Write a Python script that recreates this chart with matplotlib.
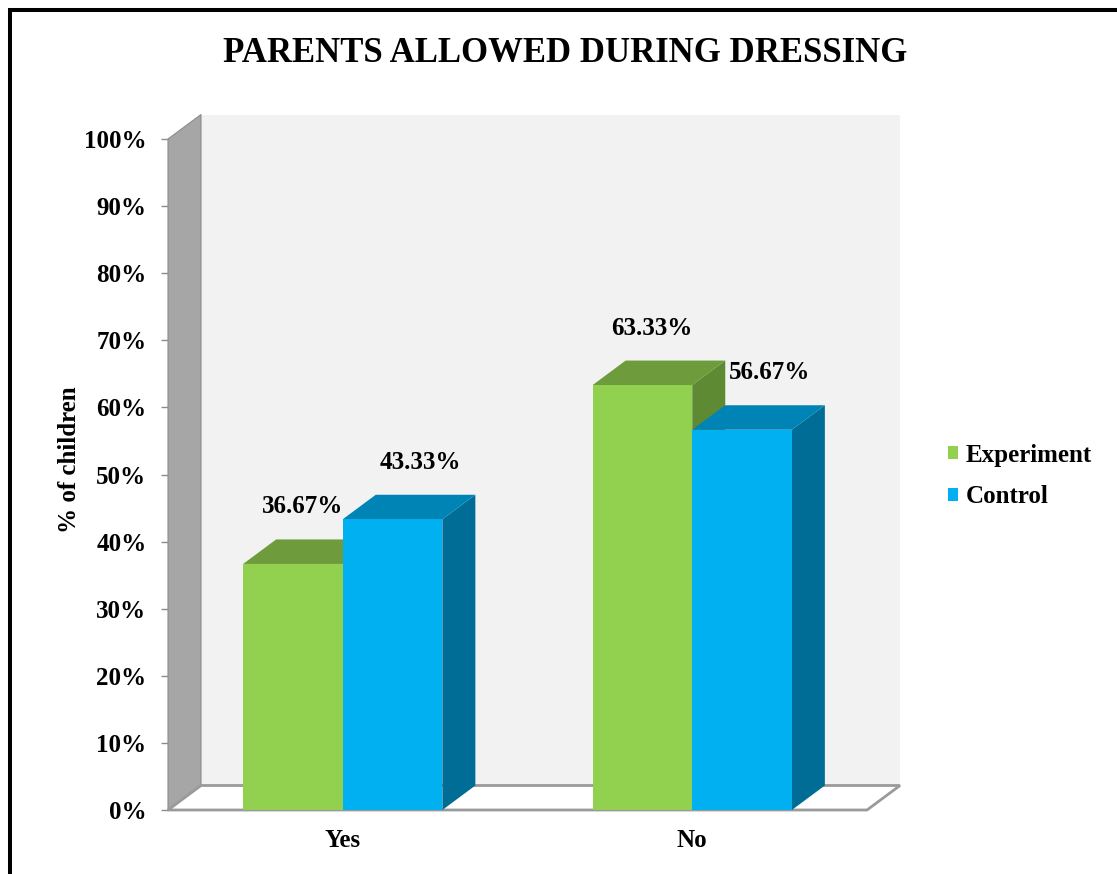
import matplotlib.pyplot as plt
import numpy as np
from matplotlib.patches import Polygon, Rectangle, Patch

# Daten
categories = ['Yes', 'No']
series = ['Experiment', 'Control']
experiment = [36.67, 63.33]
control = [43.33, 56.67]
yticks = [0, 10, 20, 30, 40, 50, 60, 70, 80, 90, 100]

front_cols = ['#92d050', '#00b0f0']
top_cols = ['#6e9b3b', '#0084b6']
side_cols = ['#5d8a32', '#006d96']

plt.rcParams['font.family'] = ['Liberation Serif', 'DejaVu Serif']
plt.rcParams['font.weight'] = 'bold'

W, H = 1117, 874
fig = plt.figure(figsize=(W/100, H/100), dpi=100)
fig.patch.set_facecolor('white')

# Vorderebene des Diagramms in Pixeln
x0p, x1p, y0p, y1p = 168, 867, 810, 139
ax = fig.add_axes([x0p/W, 1 - y0p/H, (x1p - x0p)/W, (y0p - y1p)/H])
ax.set_xlim(-0.5, 1.5)
ax.set_ylim(0, 100)
ax.patch.set_visible(False)
for s in ax.spines.values():
    s.set_visible(False)

# Tiefe (3D-Versatz) in Dateneinheiten
dx = 33 / (x1p - x0p) * 2
dy = 24.5 / (y0p - y1p) * 100

# Rueckwand, Seitenwand, Boden
ax.add_patch(Polygon([(-0.5 + dx, dy), (1.5 + dx, dy), (1.5 + dx, 100 + dy), (-0.5 + dx, 100 + dy)],
                     closed=True, fc='#f2f2f2', ec='none', clip_on=False, zorder=1))
ax.add_patch(Polygon([(-0.5, 0), (-0.5, 100), (-0.5 + dx, 100 + dy), (-0.5 + dx, dy)],
                     closed=True, fc='#a6a6a6', ec='#8c8c8c', lw=0.8, clip_on=False, zorder=2))
ax.add_patch(Polygon([(-0.5, 0), (1.5, 0), (1.5 + dx, dy), (-0.5 + dx, dy)],
                     closed=True, fc='white', ec='#9a9a9a', lw=2, clip_on=False, zorder=2))

# Balken
bw = 0.285
values = [experiment, control]
for i in range(len(categories)):
    for j in range(len(series)):
        v = values[j][i]
        x = i - bw + j * bw
        z = 3 + i * 2 + j * 0.5
        ax.add_patch(Polygon([(x + bw, 0), (x + bw, v), (x + bw + dx, v + dy), (x + bw + dx, dy)],
                             closed=True, fc=side_cols[j], ec='none', clip_on=False, zorder=z))
        ax.add_patch(Polygon([(x, v), (x + bw, v), (x + bw + dx, v + dy), (x + dx, v + dy)],
                             closed=True, fc=top_cols[j], ec='none', clip_on=False, zorder=z + 0.1))
        ax.add_patch(Rectangle((x, 0), bw, v, fc=front_cols[j], ec='none', clip_on=False, zorder=z + 0.2))
        ax.annotate('%.2f%%' % v, xy=(x + bw/2, v), xytext=(7 + 13*j, 41), textcoords='offset points',
                    ha='center', va='center', fontsize=18, fontweight='bold', zorder=10,
                    annotation_clip=False)

# Achsen
ax.set_yticks(yticks)
ax.set_yticklabels(['%d%%' % t for t in yticks])
ax.tick_params(axis='y', length=5, width=1, color='#8c8c8c', pad=10.5, labelsize=18)
ax.set_xticks(range(len(categories)))
ax.set_xticklabels(categories)
ax.tick_params(axis='x', length=0, pad=14, labelsize=18)
ax.set_ylabel('% of children', fontsize=18, fontweight='bold', labelpad=2)
ax.yaxis.label.set_y(0.522)

# Titel
fig.text(565/W, 1 - 62/H, 'PARENTS ALLOWED DURING DRESSING', ha='center', va='baseline',
         fontsize=25, fontweight='bold')

# Legende
handles = [Patch(fc=front_cols[k], ec='none', label=series[k]) for k in range(len(series))]
fig.legend(handles=handles, loc='center left', bbox_to_anchor=(948/W, 1 - 476/H), frameon=False,
           prop={'size': 18, 'weight': 'bold'}, handlelength=0.42, handleheight=0.42,
           handletextpad=0.3, labelspacing=0.75, borderpad=0, borderaxespad=0)

# Rahmen
fig.patches.append(Rectangle((10/W, -0.1), 1.2, 1 - 10/H + 0.1, transform=fig.transFigure,
                             fill=False, ec='black', lw=2.9, zorder=20))

plt.savefig('out.png', dpi=100)
